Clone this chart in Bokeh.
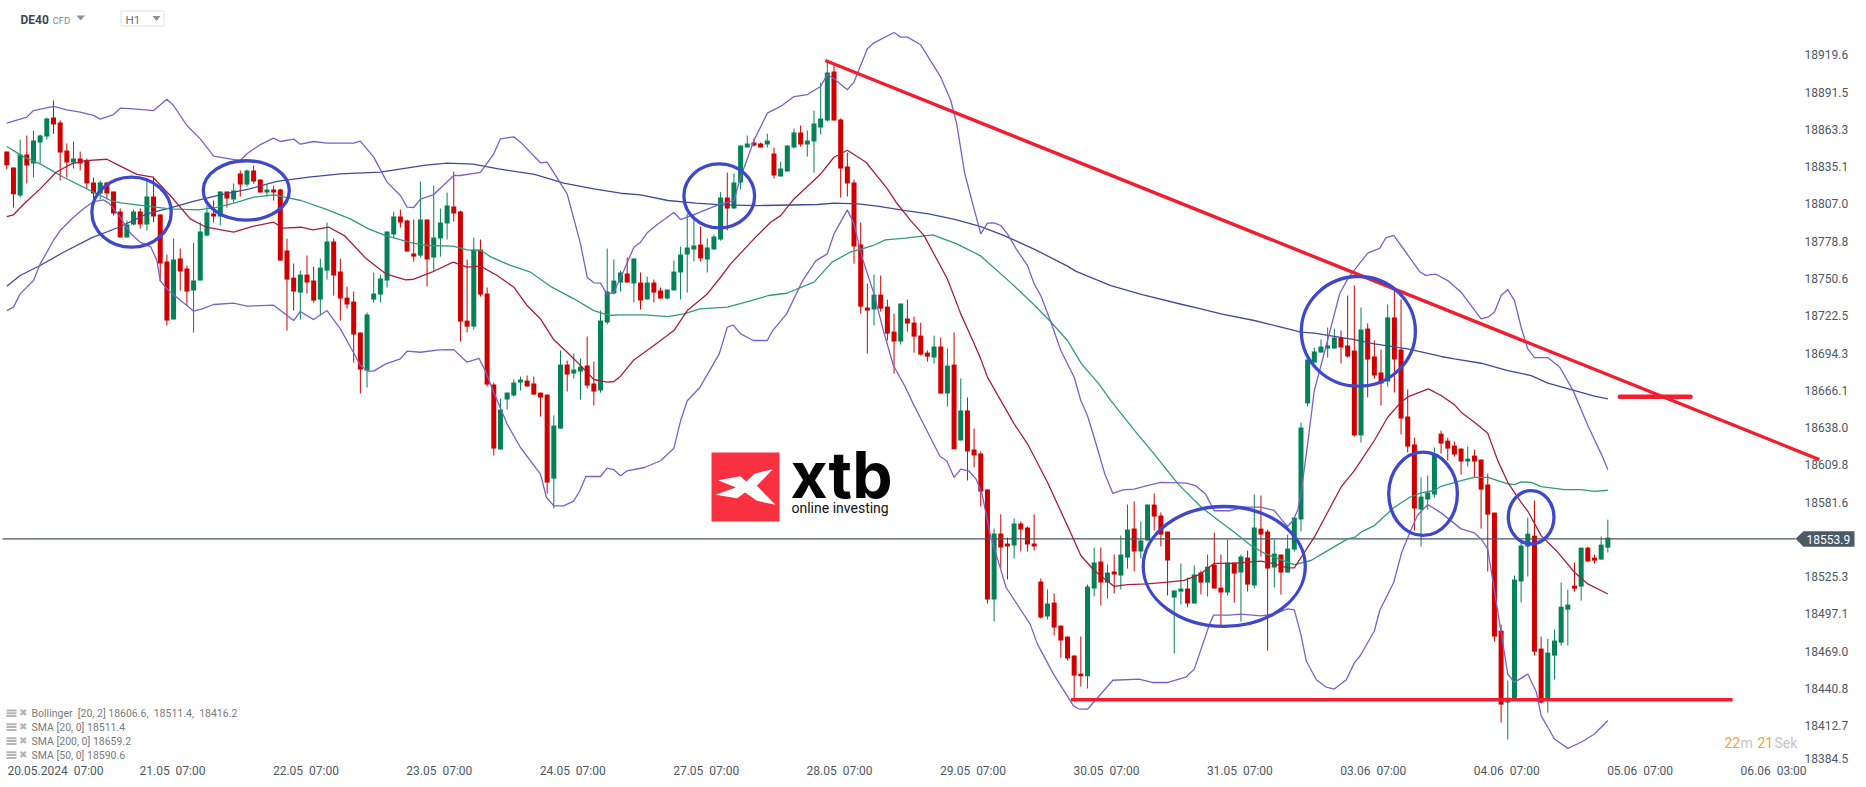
import numpy as np
from bokeh.plotting import figure
from bokeh.embed import file_html
from bokeh.resources import INLINE
from bokeh.models import Label, FixedTicker, Range1d

BASE = 18000.0

# ---------- hourly candles (price minus BASE) ----------
opens = [
846.6,834.5,813.4,844.4,837.6,853.4,858.0,872.3,868.6,847.4,
838.3,841.4,839.8,823.2,814.9,823.2,816.4,801.3,781.6,791.5,
801.3,791.5,812.6,799.0,763.5,719.6,765.8,758.2,741.6,749.1,
783.1,799.8,797.5,816.4,810.4,830.0,821.7,832.2,825.4,815.6,
817.9,817.9,771.8,751.3,740.0,753.6,749.1,734.7,756.6,778.6,
755.9,736.2,733.2,709.8,681.0,734.7,738.5,749.1,783.9,797.5,
794.4,769.5,768.0,795.2,766.5,780.8,792.2,805.0,801.2,718.8,
714.3,772.5,739.3,670.5,621.4,659.2,662.2,672.0,673.5,671.3,
664.4,662.9,599.4,637.2,685.6,678.8,680.3,684.9,671.3,666.0,
717.4,739.3,747.6,754.4,746.9,747.6,734.8,747.6,741.6,735.5,
741.6,755.2,768.8,772.6,776.3,765.0,772.6,780.1,811.8,803.5,
823.2,849.6,853.4,852.6,851.9,845.1,827.7,831.5,849.6,861.0,
851.9,854.2,864.7,870.0,907.1,870.8,835.3,823.2,776.3,728.7,
727.2,738.5,729.4,710.5,703.0,720.4,717.3,707.5,694.6,690.9,
699.2,663.7,685.6,628.2,650.9,621.4,618.4,591.2,508.0,557.9,
550.3,548.8,565.5,562.4,550.3,521.6,495.2,505.7,488.3,480.0,
465.7,452.0,450.0,516.3,536.7,520.8,529.2,526.1,539.7,561.7,
544.3,552.6,579.8,571.5,559.4,509.5,514.0,516.3,505.0,528.4,
520.8,534.4,517.0,513.3,536.0,528.4,539.7,518.6,561.6,559.4,
532.2,542.0,528.4,545.8,568.5,656.2,687.1,694.7,697.7,697.7,
706.0,700.0,696.2,632.0,712.8,691.7,679.6,672.8,721.2,697.0,
646.3,625.2,576.0,583.6,587.4,633.4,628.1,624.4,622.1,612.3,
616.8,613.8,594.9,573.7,484.5,430.1,432.3,521.6,548.0,556.3,
470.9,432.3,465.6,475.4,500.4,518.5,517.8,547.2,539.7,538.2,
547.2]
closes = [
836.3,814.4,844.4,836.1,855.0,858.7,871.6,867.1,845.9,838.3,
841.4,837.6,822.5,814.9,823.2,814.9,799.8,781.6,791.5,801.3,
791.5,812.6,797.5,762.0,718.9,765.0,755.9,740.8,749.1,786.2,
800.5,797.5,816.4,811.1,817.2,821.7,832.2,823.9,815.6,817.9,
815.6,764.2,749.8,740.8,753.6,747.6,734.0,758.9,778.6,752.9,
735.5,731.0,708.3,681.8,723.4,739.3,750.6,786.1,797.5,792.9,
771.0,767.2,795.2,765.0,781.6,792.9,805.8,799.7,718.1,714.3,
772.5,738.5,670.5,622.1,651.6,664.4,672.0,674.3,669.0,662.9,
660.7,596.4,639.5,685.6,678.1,681.8,684.1,669.7,665.2,718.9,
740.8,749.1,755.2,747.6,765.8,734.0,747.6,740.0,735.5,742.3,
755.9,768.8,774.1,775.6,765.8,774.1,782.4,811.8,803.5,823.2,
851.1,852.6,851.1,849.6,854.9,828.5,833.8,851.1,861.0,851.9,
854.9,867.8,871.6,906.3,870.0,833.8,822.4,774.8,729.4,726.4,
738.5,727.9,709.0,703.0,731.7,716.6,706.7,693.1,691.6,699.2,
663.7,684.8,621.6,650.9,619.9,616.9,589.6,508.0,557.9,547.3,
548.1,565.5,560.9,549.6,548.1,494.4,505.0,486.8,477.0,463.4,
450.5,450.0,517.8,536.0,520.8,528.4,526.9,542.0,560.9,544.3,
552.6,579.8,570.7,557.1,537.5,514.8,516.3,505.0,526.9,520.8,
532.9,516.3,513.3,536.0,527.6,540.5,519.3,562.4,557.1,531.4,
542.7,528.4,546.5,570.0,638.0,689.4,695.5,699.2,700.0,706.0,
698.5,691.7,632.0,712.1,689.4,677.3,671.3,721.2,689.4,644.8,
623.6,576.8,585.8,588.9,617.6,625.9,622.1,617.6,612.3,614.5,
612.3,591.1,572.2,480.0,428.6,433.8,523.1,548.8,557.8,468.6,
430.1,467.9,477.0,502.6,504.2,516.2,547.2,536.7,537.4,549.5,
554.8]
highs = [
846.6,834.5,855.7,858.7,862.5,859.5,872.3,885.2,870.1,852.7,
854.2,846.6,841.4,827.0,824.7,823.2,816.4,803.6,794.5,802.8,
803.6,824.7,827.7,799.0,768.8,780.9,773.3,760.5,777.8,793.0,
805.8,809.6,816.4,816.4,822.5,832.3,833.0,836.0,825.4,821.7,
820.9,818.6,780.8,761.9,756.6,768.0,759.7,765.7,793.0,780.8,
765.7,744.5,740.8,709.8,724.9,755.1,753.6,786.1,801.2,802.8,
795.2,795.2,823.9,795.2,820.9,803.5,815.6,831.5,802.0,765.0,
781.6,780.1,743.8,672.0,659.9,664.4,674.3,676.5,677.3,676.5,
664.4,662.9,647.1,696.2,688.6,693.9,690.2,706.8,687.9,726.4,
773.3,765.0,756.7,766.5,765.8,755.2,752.1,749.9,743.8,742.3,
764.2,774.8,799.8,798.3,789.9,780.9,783.9,815.9,830.7,830.0,
851.1,858.7,856.4,853.4,860.2,849.6,839.0,851.1,864.0,866.3,
862.5,877.6,898.8,914.6,911.6,871.6,845.8,825.4,792.9,746.8,
753.6,752.9,734.7,724.1,731.7,734.7,721.9,717.3,696.2,707.5,
706.0,697.7,709.8,675.1,660.7,637.3,619.9,591.2,561.7,572.3,
554.9,569.2,567.0,563.2,572.3,523.9,515.6,512.5,488.3,480.0,
465.7,480.0,519.3,547.3,547.3,534.5,542.0,556.4,579.8,582.1,
567.0,579.8,588.1,573.8,559.4,514.8,535.2,524.6,533.7,529.9,
542.0,558.6,542.0,553.3,536.0,542.0,545.0,587.4,586.6,560.9,
553.3,542.0,557.1,570.0,641.8,689.4,698.5,704.5,713.6,712.8,
711.3,737.8,745.4,728.7,716.6,703.8,697.0,731.0,741.6,734.8,
666.7,630.4,600.2,601.7,622.9,635.7,630.4,627.4,622.1,623.6,
621.3,613.8,603.2,573.7,489.0,446.7,526.1,551.0,569.9,582.8,
480.0,478.4,485.3,520.8,515.5,535.9,547.2,548.0,541.9,555.6,
568.4]
lows = [
833.0,804.3,811.9,822.5,827.0,837.6,855.7,860.0,824.7,827.0,
833.8,832.3,818.7,808.1,810.4,810.4,798.3,781.6,781.6,790.7,
788.4,786.9,793.0,748.4,715.1,719.6,741.6,730.2,709.8,749.1,
782.4,793.0,790.7,804.3,808.1,812.6,820.1,822.4,815.6,812.6,
809.6,764.2,711.3,726.4,719.6,739.3,732.4,722.6,749.8,737.7,
718.8,727.9,687.1,663.7,668.2,732.4,732.4,743.8,781.6,789.1,
771.0,763.4,766.5,744.5,755.9,767.2,780.1,793.7,703.0,709.8,
712.0,737.0,669.0,616.8,621.4,651.6,661.4,666.0,669.0,662.9,
646.3,588.1,576.8,637.2,665.2,675.0,659.2,667.5,654.6,664.4,
715.9,738.5,740.8,747.6,732.5,727.2,734.8,732.5,735.5,734.8,
741.6,734.8,740.0,763.5,763.5,755.2,772.6,779.3,786.9,803.5,
817.9,849.6,850.4,849.6,849.6,826.2,827.7,831.5,848.9,850.4,
842.8,830.7,859.5,869.3,870.0,811.8,812.6,761.9,724.1,693.9,
715.1,725.6,703.7,678.8,700.7,710.5,694.6,692.4,687.8,686.3,
663.7,653.8,621.6,628.2,598.0,607.8,578.3,505.0,491.4,531.4,
523.1,539.0,544.3,544.3,545.0,493.6,492.9,480.8,464.1,461.9,
432.6,442.2,440.7,510.3,503.5,508.8,512.5,515.6,531.4,529.2,
539.0,552.6,560.2,548.1,511.0,467.2,504.2,502.0,505.0,511.8,
510.3,516.3,487.6,511.0,505.7,491.3,514.0,516.3,540.5,469.4,
517.0,511.8,528.4,544.3,559.4,653.9,687.1,694.7,690.9,697.7,
686.4,690.9,631.2,626.7,660.7,675.0,654.6,669.0,664.5,632.7,
619.1,560.1,548.0,576.0,585.1,618.3,613.0,616.0,602.4,608.5,
600.2,561.6,529.1,476.2,414.9,402.1,432.3,505.7,525.3,465.6,
429.3,422.5,447.5,473.2,473.2,514.0,507.2,536.7,535.2,538.2,
543.5]

# ---------- indicators, read at the visible vertices (bar index, price minus BASE) ----------
bb_up_i = [0,3,4,7,9,11,13,14,16,17,19,22,24,25,27,29,31,35,36,38,40,41,43,44,46,48,52,53,55,57,59,60,61,62,64,67,68,71,73,74,76,77,80,81,84,85,
           86,87,88,89,90,91,92.5,94,95,96,97.5,100,101,103,107,109,110,112,114,116,118,120,122,123,124,126,127,129,130,133,134,135,137,140,141.5,142.4,143.6,144.8,146,147,148,149,150,151.3,153,154,155,156.6,158,160,161,
           162,163,164.6,165.8,167.3,169,170.8,173,176.8,178.2,179.7,181,183.3,185.5,188,190,191,192,192.8,193.5,194,195,196,196.8,198.5,199.8,201,202.9,204.05,205.8,206.7,207.9,210,211.8,212.7,214.2,216,218,221,222,223,224,225,226,227,228,229,231,232.8,234.8,237,239,240]
bb_up_p = [868.1,872.6,877.6,880.7,878.1,876.4,873.9,871.1,874.6,879.4,878.9,877.6,886.2,881.4,866.3,856.2,843.1,839.8,844.9,851.9,856.7,854.2,856.0,852.2,854.2,852.9,852.9,854.5,842.4,823.5,813.4,804.6,804.3,810.6,814.1,828.5,828.5,830.8,844.9,856.2,857.7,853.7,838.1,838.6,814.6,795.7,
           776.8,751.6,747.4,747.1,738.5,740.3,756.7,774.3,778.1,785.2,791.5,800.5,795.2,799.0,807.1,809.6,827.2,855.0,875.6,880.7,888.2,889.7,895.8,904.9,901.6,893.3,899.1,924.3,928.8,936.6,933.1,933.1,927.3,902.8,885.2,867.6,829.8,807.1,784.4,792.5,792.7,790.7,784.4,773.1,760.5,746.6,737.8,716.4,696.2,676.0,658.4,
           646.9,630.5,602.8,588.2,590.9,591.4,593.9,596.5,596.0,594.0,587.7,575.1,575.1,577.8,577.8,575.3,569.0,563.2,567.7,575.3,587.9,625.7,666.0,681.1,713.9,739.1,750.4,762.9,770.0,773.4,781.3,783.3,768.6,755.8,753.0,753.9,749.1,740.3,720.1,721.4,725.2,737.8,742.3,734.0,713.8,697.4,690.9,690.9,683.6,665.9,639.5,618.1,606.2]

bb_lo_i = [0,1,2,4,5,7,8,10,11.5,13,14.5,15.4,17,18.6,20,21.6,22.5,23,24.2,27,28,29.3,31,34,36,40,43,44,46,48,50,51.8,53,54.2,55,56.8,59,60,62,64.8,67,69,70.8,71.7,73,75,77,80,80.9,82,83.5,85,85.9,86.8,89,90,91,92,93,95.6,98,100,101,102,103.9,
           106.8,108,108.9,110,111.9,114,114.8,116.9,119.3,121.3,123,124,126,127,128.2,130,131.4,132.9,134.7,135.9,137.3,139.9,140.9,142,143,144.2,145.3,146.2,147.4,149.8,153.4,154.5,156.9,159.9,160.8,162,165.8,169.7,171.7,174.1,176.8,178,180.3,180.9,183.3,185,188,190,192,193,194,194.8,196.3,197.8,199,200.8,202,202.9,205,205.8,207.9,209.1,210.6,211.5,213,215,218,220,221,222,223,225,226,228,229.3,230,232,234,236,238,240]
bb_lo_p = [726.4,729.0,739.0,749.1,761.7,779.4,786.9,797.0,803.3,808.8,810.1,807.1,797.0,784.4,778.1,774.3,764.2,749.1,741.6,730.2,725.9,727.7,731.0,732.0,729.7,730.5,718.9,725.7,719.6,726.4,712.6,696.2,684.9,680.6,680.6,686.1,689.9,695.7,694.9,696.7,696.9,687.4,690.2,681.1,664.7,640.6,622.9,602.8,585.1,578.8,578.8,582.6,590.2,601.0,601.0,607.3,606.1,601.5,605.3,607.8,612.9,622.4,643.1,658.2,668.3,
           693.7,713.8,715.4,708.8,703.8,703.8,711.3,723.9,749.1,764.2,769.3,784.4,802.5,792.0,766.8,739.0,711.3,684.9,668.5,655.7,641.8,616.1,612.9,600.3,606.6,605.3,599.0,587.7,557.4,517.1,489.4,474.3,451.6,427.6,425.1,425.1,447.0,447.8,445.3,445.3,449.6,455.4,489.4,496.2,496.2,496.9,495.6,497.1,500.9,500.2,481.3,461.5,447.4,441.7,440.3,447.4,460.1,465.7,484.2,499.7,520.9,543.6,562.0,571.9,579.8,573.5,561.4,558.3,553.8,546.2,514.7,451.7,445.4,451.7,437.9,420.2,402.6,395.5,400.1,406.4,416.5]

sma20_i = [0,1,2.6,5,7.4,9.7,11.8,15,16.8,19.5,21.9,24.5,27.5,29.9,34,37,40,41.4,44.1,45.9,48.3,50.6,53.9,56.8,59.8,61,63.7,66.9,69,71,73.5,76,78,80,82,84,86,88,90,91,92,94,97,100,102,105,107,108.5,112,114.5,116,118,122,124,126,128.8,132,133.3,135.5,137.5,141,143,144.8,146,147,151,153,156,160,161,163,166,168,171,174,176.5,179,181,184,188,190,192,193,196,200,202,205,207,209,210.1,213.1,215,217,218,220,222,223.5,225,227,228.1,230,232.5,235,237,240]
sma20_p = [797.5,798.8,807.1,818.4,831.0,837.3,839.8,840.8,836.1,829.3,827.2,813.4,795.7,789.4,785.7,790.2,793.2,788.7,789.4,787.4,789.4,783.1,765.5,754.2,749.6,750.1,755.4,763.0,759.2,760.0,752.9,744.1,730.2,720.1,704.3,694.9,684.9,674.3,672.3,672.8,676.8,689.1,700.0,711.3,726.4,739.0,751.6,761.7,780.6,793.2,798.2,810.8,829.7,842.3,847.6,838.5,818.4,808.3,794.4,783.1,750.3,723.9,703.8,689.9,676.1,640.8,625.7,596.7,552.6,541.3,529.9,517.9,519.3,519.8,521.1,522.4,527.4,535.4,535.4,537.0,535.0,531.9,531.9,555.1,592.9,605.5,628.2,645.8,657.2,661.4,667.2,662.2,655.3,649.6,642.0,633.7,613.0,596.6,581.5,574.0,556.3,543.7,528.6,519.8,512.2]

sma50_i = [0,2.6,5,8.5,12,15.6,17.1,20.4,24.5,28.7,31.7,34.6,37,40,41.7,44.1,47.7,51.5,54.2,56.8,60.7,63.1,66.9,69,71.1,72.6,75.5,78.5,81.7,85,88,90.3,92,95.6,99.1,101.5,103.9,108,111.6,114.2,116.9,121,123.7,126.4,128.2,129.9,131.7,134.7,138.8,142.4,145.9,150.4,153.6,156.3,159,161.1,163.7,165.5,169.1,172,175.6,179.1,182,184,186.5,188.5,191,193,195.5,198,201,202.1,203,205,208,210.3,212,214,215,218,220,222,223.5,225,226,227,228.5,230,233.5,236,238,240]
sma50_p = [850.4,842.4,837.3,827.2,818.4,809.6,807.8,805.8,803.3,802.5,804.6,808.3,812.1,813.9,812.1,809.6,803.3,795.7,788.2,783.1,777.6,775.6,775.1,772.3,771.8,766.8,760.5,755.4,744.1,735.3,726.4,722.7,723.2,723.2,721.9,723.9,727.7,729.0,734.0,737.8,739.5,747.9,763.0,770.5,773.1,775.6,779.9,781.1,783.6,776.8,768.0,747.9,732.7,718.9,703.8,686.1,671.0,658.4,635.5,617.9,595.2,577.6,566.4,558.9,548.8,543.0,538.0,534.4,537.5,545.0,553.8,555.1,558.9,563.9,577.8,585.3,588.6,590.4,593.6,597.9,600.4,600.4,597.9,595.4,594.9,596.9,596.6,593.4,591.1,591.1,589.8,590.6]

sma200_i = [0,2,5,8.5,12.7,16.8,21,24.5,28.1,31.7,36.4,40.5,45.3,50,56,62.8,66,69.9,73.7,79.1,83.5,88,92,95,99.1,103.3,107.4,112.7,121.6,124,127.6,130.5,134.7,138.2,142.4,145.9,149.5,153.9,159,160.2,165.5,170.2,176.2,179,182,187,191,194,196,202,205,210,215,217,221,225,228.5,231,234.5,238,240]
sma200_p = [744.8,752.9,760.5,770.5,781.4,789.4,799.5,804.0,809.1,813.4,818.4,824.0,827.2,829.8,831.0,836.3,837.8,837.1,833.5,829.3,822.7,818.4,815.1,813.9,809.6,807.6,806.3,805.8,806.6,807.6,807.1,805.3,802.0,799.5,795.0,790.0,783.1,773.1,760.0,756.2,745.3,738.5,731.0,727.7,723.9,718.9,713.9,710.1,709.3,704.5,701.3,697.5,691.7,689.9,686.6,681.1,677.3,671.5,666.7,661.7,659.6]

last_price = 553.9

# ---------- hand-drawn annotations on the chart ----------
trend_i, trend_p = [122.7, 271.7], [915.4, 613.8]
support_i, support_p = [159.5, 258.7], [432.2, 432.2]
resist_i, resist_p = [241.8, 252.4], [661.3, 661.3]
ell_i = [18.7, 35.9, 106.8, 182.5, 202.6, 212.3, 228.5]
ell_p = [800.8, 817.2, 813.1, 533.0, 710.7, 587.9, 570.2]
ell_w = [11.9, 12.9, 10.6, 24.3, 17.1, 10.3, 6.85]
ell_h = [52.9, 44.9, 48.4, 90.7, 82.9, 63.0, 40.3]

# ---------- axis labels ----------
price_ticks = [18919.6,18891.5,18863.3,18835.1,18807.0,18778.8,18750.6,18722.5,18694.3,18666.1,18638.0,18609.8,18581.6,18525.3,18497.1,18469.0,18440.8,18412.7]
time_ticks = [7.3,24.84,44.84,64.84,84.84,104.84,124.84,144.84,164.84,184.84,204.84,224.84,244.84,264.84]
NB2 = "\u00a0\u00a0"
time_labels = ["20.05.2024" + NB2 + "07:00","21.05" + NB2 + "07:00","22.05" + NB2 + "07:00","23.05" + NB2 + "07:00","24.05" + NB2 + "07:00","27.05" + NB2 + "07:00","28.05" + NB2 + "07:00","29.05" + NB2 + "07:00","30.05" + NB2 + "07:00","31.05" + NB2 + "07:00","03.06" + NB2 + "07:00","04.06" + NB2 + "07:00","05.06" + NB2 + "07:00","06.06" + NB2 + "03:00"]

assert len(opens) == len(closes) == len(highs) == len(lows) == 241
for a, b in [(bb_up_i,bb_up_p),(bb_lo_i,bb_lo_p),(sma20_i,sma20_p),(sma50_i,sma50_p),(sma200_i,sma200_p)]:
    assert len(a) == len(b), (len(a), len(b))

O, C, H, L = [BASE + np.array(a) for a in (opens, closes, highs, lows)]
idx = np.arange(len(O))

# ---------- scales: 1 bar = 6.671 px, 1 point = 1.323 px ----------
W, HGT = 1866, 787
FRAME_B = 764
def sx(px):
    return (px - 6.3) / 6.671
def sy(py):
    return BASE + last_price - (py - 538.3) / 1.323

p = figure(width=W, height=HGT, output_backend="svg", toolbar_location=None,
           x_range=Range1d(sx(0), sx(W)), y_range=Range1d(sy(FRAME_B), sy(0)),
           x_axis_location="below", y_axis_location="right",
           min_border_left=0, min_border_top=0, min_border_right=0, min_border_bottom=HGT-FRAME_B)
p.styles = {"position": "absolute", "left": "0px", "top": "0px"}
p.outline_line_color = None
p.grid.visible = False
p.background_fill_color = "white"

for ax in (p.xaxis[0], p.yaxis[0]):
    ax.axis_line_color = None
    ax.major_tick_line_color = None
    ax.minor_tick_line_color = None
    ax.major_label_text_font = "Roboto"
    ax.major_label_text_font_size = "12px"
    ax.major_label_text_color = "#4d5962"
p.yaxis[0].ticker = FixedTicker(ticks=price_ticks + [18387.5])
p.yaxis[0].major_label_overrides = {**{t: f"{t:.1f}" for t in price_ticks}, 18387.5: "18384.5"}
p.yaxis[0].major_label_standoff = 6
p.yaxis[0].fixed_location = sx(1792)
p.xaxis[0].ticker = FixedTicker(ticks=time_ticks)
p.xaxis[0].major_label_overrides = dict(zip(time_ticks, time_labels))
p.xaxis[0].major_label_standoff = -7

# candles
RED, GREEN = "#d00000", "#048157"
up = C >= O
cols = np.where(up, GREEN, RED).tolist()
p.segment(idx, H, idx, L, color=cols, line_width=1)
p.vbar(idx, 0.75, np.maximum(O, C), np.minimum(O, C), fill_color=cols, line_color=None)

# price line
p.line([sx(2), sx(1795)], [BASE + last_price] * 2, line_color="#47545f", line_width=1.2)

# indicators
for xs, ys, col in [(sma200_i, sma200_p, "#404b98"), (sma50_i, sma50_p, "#2f9a7d"),
                    (sma20_i, sma20_p, "#a61f3d"), (bb_up_i, bb_up_p, "#7c60c8"), (bb_lo_i, bb_lo_p, "#7c60c8")]:
    p.line(xs, BASE + np.array(ys), line_color=col, line_width=1.3)

# drawings
p.line(trend_i, BASE + np.array(trend_p), line_color="#f01e2e", line_width=3.4)
p.line(support_i, BASE + np.array(support_p), line_color="#f01e2e", line_width=3.4)
p.line(resist_i, BASE + np.array(resist_p), line_color="#f01e2e", line_width=4.5, line_cap="round")
p.ellipse(ell_i, BASE + np.array(ell_p), width=ell_w, height=ell_h, fill_color=None,
          line_color="#3f48cc", line_width=3.3)

def label(px, py, text, size, color="#333", font="Roboto", style="normal", baseline="middle", align="left"):
    p.add_layout(Label(x=sx(px), y=sy(py), text=text, text_font=font, text_font_size=f"{size}px",
                       text_font_style=style, text_color=color, text_baseline=baseline, text_align=align))

# header
label(20, 19.5, "DE40", 12, "#3d4850", style="bold")
label(52, 19.5, "CFD", 9.5, "#7f8a92")
p.patch([sx(76), sx(84.5), sx(80.2)], [sy(15), sy(15), sy(20)], color="#8a9299", line_color=None)
p.quad(left=sx(120.5), right=sx(163.5), top=sy(10.5), bottom=sy(25.5), fill_color="white", line_color="#dfe2e4", line_width=1)
label(125, 19.5, "H1", 11.5, "#6d7880")
p.patch([sx(152), sx(160), sx(156)], [sy(15.5), sy(15.5), sy(20.5)], color="#8a9299", line_color=None)

# legend rows
rows = [(713, "Bollinger" + NB2 + "[20, 2] 18606.6," + NB2 + "18511.4," + NB2 + "18416.2"), (726.8, "SMA [20, 0] 18511.4"),
        (740.8, "SMA [200, 0] 18659.2"), (754.8, "SMA [50, 0] 18590.6")]
for ry, txt in rows:
    for dy in (-4, -1.2, 1.6):
        p.quad(left=sx(6), right=sx(16), top=sy(ry + dy), bottom=sy(ry + dy + 2), fill_color="#b5b5b5", line_color=None)
    label(18.5, ry - 1, "✖", 10, "#b5b5b5", font="DejaVu Sans")
    label(31, ry, txt, 10.5, "#7a7a7a")

# logo
p.quad(left=sx(711), right=sx(779), top=sy(452), bottom=sy(521), fill_color="#f9303f", line_color=None)
logo_x = [717.6, 739.8, 745.7, 754.4, 772.2, 756.4, 774.9, 756.4, 744.5, 736.6, 714.9, 735.4]
logo_y = [479.7, 475.7, 481, 473, 468.7, 485.3, 504.3, 500.3, 492, 497.7, 494.3, 487]
p.patch([sx(v) for v in logo_x], [sy(v) for v in logo_y], color="white", line_color=None)
label(790, 474, "xtb", 64, "#050505", font="Inter", style="bold")
label(791, 507, "online investing", 14, "#111111", font="Roboto")

# last-price tag
tag_x = [1795, 1803, 1854, 1854, 1803]
tag_y = [538.3, 530.7, 530.7, 546.2, 546.2]
p.patch([sx(v) for v in tag_x], [sy(v) for v in tag_y], color="#4a5a66", line_color=None)
label(1806, 538.8, "18553.9", 12, "#ffffff")

# countdown
label(1724, 742, "22", 14, "#f9a13a")
label(1740, 742, "m", 14, "#c4c4c4")
label(1757, 742, "21", 14, "#f9a13a")
label(1774, 742, "Sek", 14, "#c4c4c4")

open("out.html", "w").write(file_html(p, INLINE))
